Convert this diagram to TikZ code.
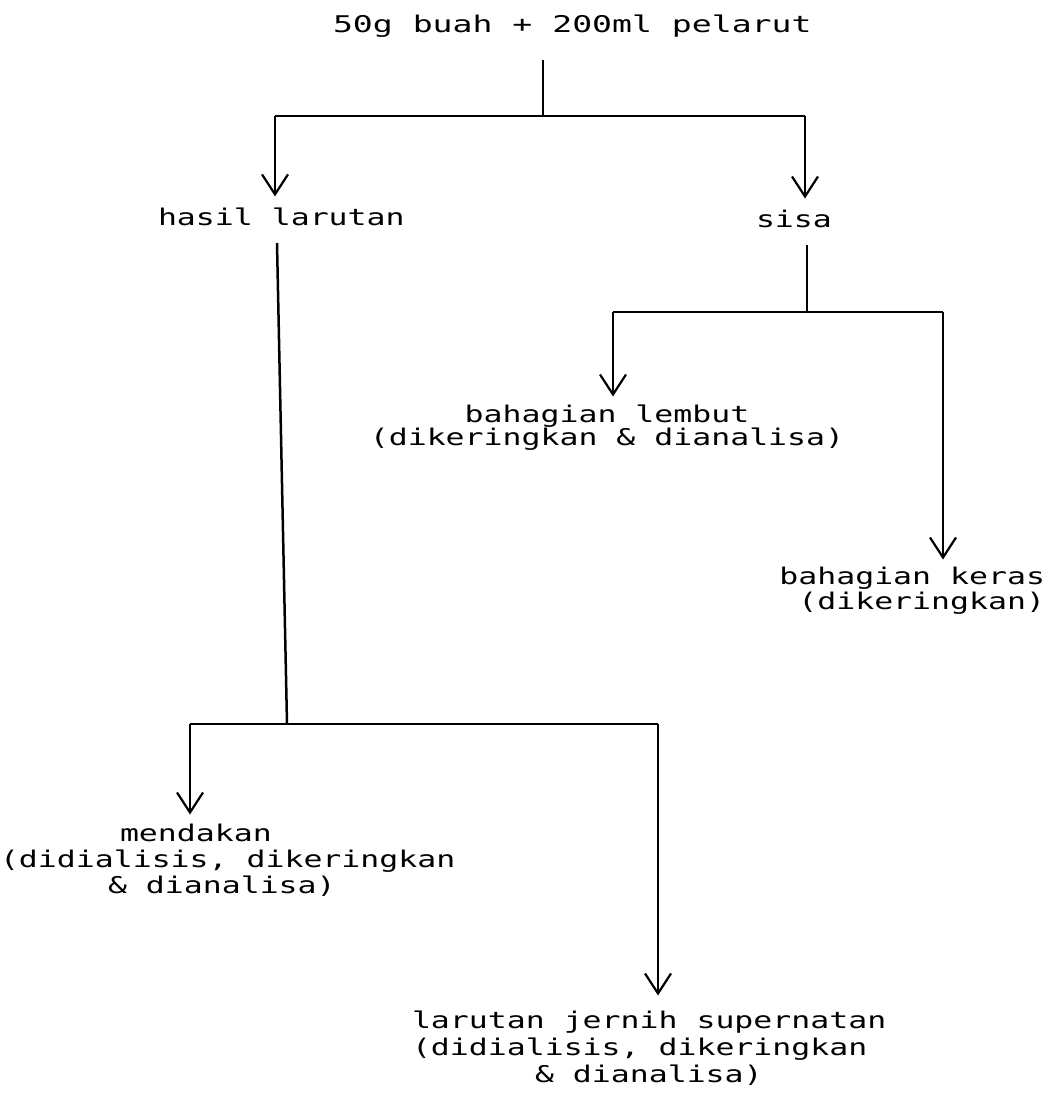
\documentclass[tikz,border=0pt]{standalone}
\usepackage{fontspec}
\newfontfamily\tw[FakeStretch=1.37]{DejaVu Sans Mono}
\newfontfamily\twt[FakeStretch=1.44]{DejaVu Sans Mono}
\usetikzlibrary{arrows.meta}
\begin{document}
\begin{tikzpicture}[x=1pt,y=-1pt,
  txt/.style={font=\tw\fontsize{23}{26}\selectfont, inner sep=0pt, outer sep=0pt},
  ttl/.style={font=\twt\fontsize{23}{26}\selectfont, inner sep=0pt, outer sep=0pt},
  ln/.style={line width=2.5pt},
  arr/.style={ln, -{Straight Barb[length=20pt,width=26pt,line width=2.2pt]}}]
\useasboundingbox (0,0) rectangle (1050,1102);

% texts
\node[ttl, anchor=base west] (src) at (333,33) {50g buah + 200ml pelarut};
\node[txt, anchor=base west] (hasil) at (158,225) {hasil larutan};
\node[txt, anchor=base west] (sisa) at (756,227) {sisa};
\node[txt, font=\tw\fontsize{23}{21}\selectfont, anchor=north, align=center] (lembut) at (607,404.5)
  {bahagian lembut\\(dikeringkan \& dianalisa)};
\node[txt, font=\tw\fontsize{23}{25}\selectfont, anchor=north east, align=right] (keras) at (1045,567.5)
  {bahagian keras\\(dikeringkan)};
\node[txt, font=\tw\fontsize{23}{26}\selectfont, anchor=north west, align=left] (mend) at (0,824.5)
  {\hspace*{120pt}mendakan\\(didialisis, dikeringkan\\\hspace*{108pt}\& dianalisa)};
\node[txt, font=\tw\fontsize{23}{27}\selectfont, anchor=north west, align=left] (lar) at (412,1010.5)
  {larutan jernih supernatan\\(didialisis, dikeringkan\\\hspace*{123pt}\& dianalisa)};

% junctions
\coordinate (t0) at (543,60);
\coordinate (j0) at (543,116);
\coordinate (jl) at (275,116);
\coordinate (jr) at (805,116);
\coordinate (h0) at (277,243);
\coordinate (j2) at (287,724);
\coordinate (j2l) at (190,724);
\coordinate (j2r) at (658,724);
\coordinate (s0) at (807,245);
\coordinate (j3) at (807,312);
\coordinate (j3l) at (613,312);
\coordinate (j3r) at (943,312);

% connectors
\draw[ln] (t0) -- (j0);
\draw[ln] (jl) -- (jr);
\draw[arr, shorten >=11pt] (jl) -- (jl |- hasil.north);
\draw[arr, shorten >=11pt] (jr) -- (jr |- sisa.north);

\draw[ln] (h0) -- (j2);
\draw[ln] (j2l) -- (j2r);
\draw[arr, shorten >=10pt] (j2l) -- (j2l |- mend.north);
\draw[arr, shorten >=15pt] (j2r) -- (j2r |- lar.north);

\draw[ln] (s0) -- (j3);
\draw[ln] (j3l) -- (j3r);
\draw[arr, shorten >=8pt] (j3l) -- (j3l |- lembut.north);
\draw[arr, shorten >=8pt] (j3r) -- (j3r |- keras.north);
\end{tikzpicture}
\end{document}
